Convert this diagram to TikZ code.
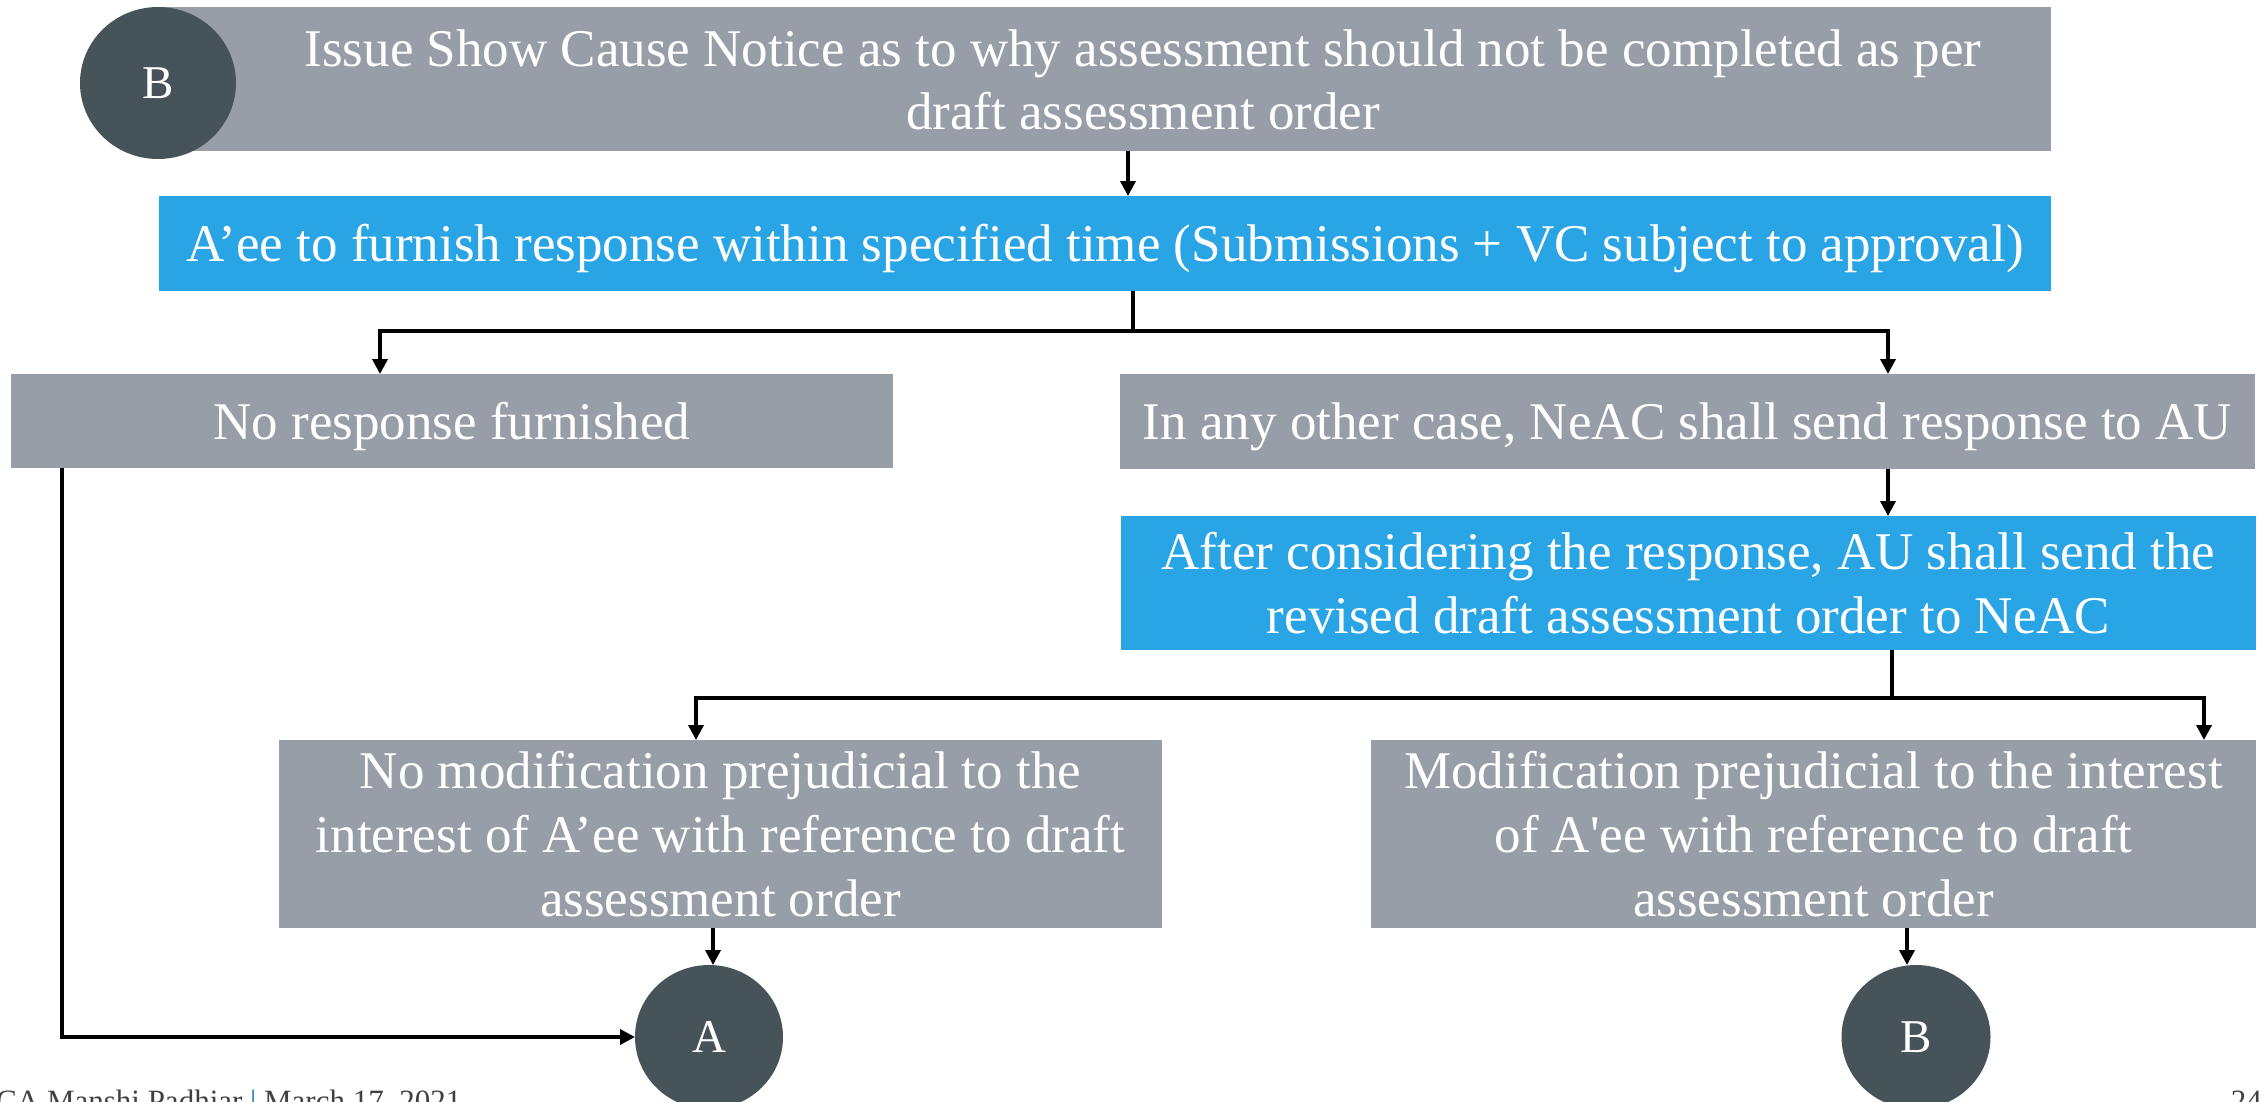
\documentclass[tikz,border=0pt]{standalone}
\usepackage{fontspec}
\setmainfont{Liberation Serif}
\usetikzlibrary{arrows.meta,shapes.geometric,calc}
\definecolor{boxgray}{HTML}{979EA7}
\definecolor{boxblue}{HTML}{29A4E4}
\definecolor{darkdisc}{HTML}{465359}
\definecolor{foot}{HTML}{404040}
\definecolor{footblue}{HTML}{2A7AB8}
\begin{document}
\begin{tikzpicture}[x=1pt,y=-1pt,
  box/.style={rectangle, inner sep=0pt, outer sep=0pt, anchor=north west, text=white, align=center, font=\fontsize{53}{64}\selectfont},
  graybox/.style={box, fill=boxgray},
  bluebox/.style={box, fill=boxblue},
  oneline/.style={text height=46pt, text depth=10pt},
  disc/.style={ellipse, fill=darkdisc, inner sep=0pt, outer sep=0pt, text=white, font=\fontsize{47}{47}\selectfont},
  conn/.style={line width=3.5pt},
  arr/.style={conn, -{Triangle[length=15pt,width=15pt]}},
  foottext/.style={inner sep=0pt, font=\fontsize{31}{31}\selectfont, text=foot}]

\useasboundingbox (0,0) rectangle (2260,1101);

% boxes
\node[graybox, minimum width=1892pt, minimum height=144pt] (top) at (159,7) {};
\node[text=white, align=center, inner sep=0pt, font=\fontsize{53}{63}\selectfont] (toptext) at (1143,80) {Issue Show Cause Notice as to why assessment should not be completed as per\\draft assessment order};
\node[disc, minimum width=156pt, minimum height=152pt] (B1) at (158,83) {B};

\node[bluebox, oneline, minimum width=1892pt, minimum height=95pt] (aee) at (159,196) {A’ee to furnish response within specified time (Submissions + VC subject to approval)};

\node[graybox, oneline, minimum width=882pt, minimum height=94pt] (nr) at (11,374) {No response furnished};
\node[graybox, oneline, minimum width=1135pt, minimum height=95pt] (other) at (1120,374) {In any other case, NeAC shall send response to AU};

\node[bluebox, minimum width=1135pt, minimum height=134pt] (rev) at (1121,516) {After considering the response, AU shall send the\\revised draft assessment order to NeAC};

\node[graybox, minimum width=883pt, minimum height=188pt] (nm) at (279,740) {No modification prejudicial to the\\interest of A’ee with reference to draft\\assessment order};
\node[graybox, minimum width=885pt, minimum height=188pt] (mod) at (1371,740) {Modification prejudicial to the interest\\of A\textquotesingle ee with reference to draft\\assessment order};

\node[disc, minimum width=148pt, minimum height=144pt] (A) at (709,1037) {A};
\node[disc, minimum width=149pt, minimum height=144pt] (B2) at (1916,1037) {B};

% connectors
\coordinate (t1) at ($(top.south west)+(969,0)$);
\draw[arr] (t1) -- (t1 |- aee.north);

\coordinate (s1) at ($(aee.south west)+(974,0)$);
\coordinate (j1) at ($(s1)+(0,40)$);
\coordinate (nrIn) at ($(nr.north west)+(369,0)$);
\coordinate (oIn) at ($(other.north west)+(768,0)$);
\draw[conn] (s1) -- (j1);
\draw[arr] (j1) -| (nrIn);
\draw[arr] (j1) -| (oIn);

\coordinate (oOut) at ($(other.south west)+(768,0)$);
\draw[arr] (oOut) -- (oOut |- rev.north);

\coordinate (s2) at ($(rev.south west)+(771,0)$);
\coordinate (j2) at ($(s2)+(0,48)$);
\coordinate (nmIn) at ($(nm.north west)+(417,0)$);
\coordinate (modIn) at ($(mod.north west)+(833,0)$);
\draw[conn] (s2) -- (j2);
\draw[arr] (j2) -| (nmIn);
\draw[arr] (j2) -| (modIn);

\coordinate (nmOut) at ($(nm.south west)+(434,0)$);
\draw[arr] (nmOut) -- (nmOut |- A.north);

\coordinate (nrOut) at ($(nr.south west)+(51,0)$);
\draw[arr] (nrOut) |- (A.west);

\coordinate (modOut) at ($(mod.south west)+(536,0)$);
\draw[arr] (modOut) -- (modOut |- B2.north);

% footer
\node[foottext, anchor=base west] (footer) at (-4,1111) {CA Manshi Padhiar {\color{footblue}|} March 17, 2021};
\node[foottext, anchor=base east] (pageno) at (2262,1111) {24};
\end{tikzpicture}
\end{document}
